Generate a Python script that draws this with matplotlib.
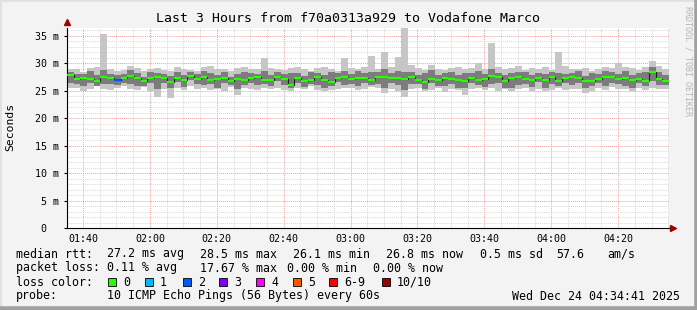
import numpy as np
import matplotlib.pyplot as plt
from matplotlib.lines import Line2D
from matplotlib.patches import Rectangle

W, H = 697, 310

# time axis in minutes since midnight, 2 minute samples
t_start = 95.2
t_step = 2.0

# median rtt per sample (ms)
med = [27.8, 27.1, 27.4, 27.2, 26.8, 27.5, 27.3, 26.9, 27.3, 27.7, 27.4, 26.7, 27.3, 27.5, 27.4,
       26.6, 27.4, 26.9, 27.7, 27.2, 27.6, 27.0, 27.1, 27.3, 26.8, 27.2, 26.9, 27.3, 27.5, 27.0,
       26.9, 27.6, 27.2, 26.1, 27.3, 26.8, 27.0, 27.5, 26.9, 26.6, 27.4, 27.6, 27.2, 27.4, 27.3,
       27.0, 27.6, 27.5, 27.3, 27.4, 27.1, 27.6, 27.0, 26.6, 27.2, 26.9, 27.4, 27.2, 27.0, 26.8,
       27.3, 27.0, 27.2, 27.7, 27.5, 26.8, 27.3, 27.6, 27.1, 26.9, 27.4, 27.0, 27.6, 26.7, 27.3,
       27.5, 27.4, 26.8, 26.7, 27.2, 27.5, 27.6, 27.1, 27.4, 26.9, 27.2, 26.8, 28.5, 27.1, 26.8]

# smoke: slowest / fastest ping
hi = [28.9, 29.0, 28.5, 29.2, 29.3, 35.4, 29.0, 28.6, 28.8, 29.6, 29.2, 28.7, 28.9, 29.1, 28.8,
      28.6, 29.3, 29.0, 28.8, 28.7, 29.4, 29.6, 28.9, 29.0, 28.7, 29.2, 29.3, 28.9, 28.9, 30.9,
      29.1, 29.0, 28.8, 29.2, 29.3, 28.9, 28.6, 29.2, 29.4, 29.0, 28.7, 31.0, 29.1, 28.9, 29.3,
      31.4, 29.0, 32.1, 29.3, 31.2, 36.6, 29.7, 29.2, 28.8, 29.7, 29.0, 28.8, 29.1, 29.4, 28.9,
      29.2, 30.1, 29.0, 33.7, 29.3, 28.9, 29.1, 29.5, 28.8, 29.2, 29.0, 29.3, 28.8, 32.1, 29.6,
      29.0, 28.9, 29.2, 28.6, 29.0, 29.3, 29.2, 30.1, 29.4, 29.1, 28.8, 29.3, 30.4, 29.6, 28.9]
lo = [25.6, 25.5, 24.9, 25.3, 25.8, 25.4, 25.1, 25.6, 25.9, 25.4, 25.2, 25.7, 25.0, 23.9, 25.3,
      23.7, 25.5, 25.1, 25.8, 25.4, 25.6, 25.2, 25.3, 25.0, 25.7, 24.2, 25.5, 25.4, 25.1, 25.6,
      25.3, 25.5, 25.2, 25.0, 25.6, 25.4, 25.8, 25.2, 24.9, 25.1, 25.3, 25.6, 25.5, 25.2, 25.4,
      25.7, 25.5, 24.6, 25.3, 25.0, 23.8, 25.4, 25.6, 24.9, 25.2, 25.5, 24.8, 25.3, 25.1, 24.2,
      25.4, 25.6, 25.2, 25.5, 25.0, 25.3, 24.9, 25.4, 25.6, 25.0, 25.3, 24.9, 25.2, 25.5, 25.1,
      25.3, 25.4, 24.6, 25.0, 25.5, 25.2, 25.7, 25.3, 25.4, 24.9, 25.6, 25.2, 25.5, 25.4, 25.3]
# smoke: middle pings
ilo = [26.5, 26.3, 25.8, 26.4, 25.9, 26.2, 26.2, 26.1, 26.5, 26.3, 25.9, 25.8, 26.4, 25.4, 26.5,
       25.5, 26.6, 25.7, 26.9, 26.3, 26.1, 26.2, 25.6, 26.5, 26.0, 25.4, 26.1, 26.5, 26.0, 26.2,
       25.8, 26.7, 26.0, 25.5, 26.5, 25.7, 26.2, 26.0, 25.6, 25.8, 26.6, 26.1, 26.3, 25.8, 26.4,
       26.1, 26.2, 25.6, 26.5, 26.0, 25.2, 26.3, 26.2, 25.4, 26.4, 25.8, 25.9, 26.3, 25.6, 25.5,
       26.5, 26.1, 25.7, 26.2, 26.4, 25.6, 25.5, 26.1, 26.2, 25.7, 26.6, 25.6, 26.2, 25.8, 26.5,
       26.0, 26.5, 25.5, 25.8, 26.4, 25.9, 26.4, 26.2, 25.8, 25.6, 26.4, 25.8, 26.7, 26.0, 26.0]
ihi = [28.4, 28.1, 28.0, 28.6, 27.8, 28.8, 28.1, 27.9, 28.0, 28.8, 28.2, 27.6, 28.4, 28.3, 28.1,
       27.7, 28.5, 27.8, 28.4, 28.0, 28.7, 28.3, 27.9, 28.5, 27.6, 28.1, 28.4, 28.2, 28.0, 28.6,
       27.8, 28.4, 28.1, 28.2, 28.2, 27.7, 28.5, 28.3, 27.8, 28.4, 28.2, 28.6, 28.0, 28.7, 28.2,
       28.4, 28.5, 28.9, 28.2, 28.6, 28.4, 28.5, 27.9, 28.3, 28.8, 27.8, 28.3, 28.5, 27.9, 28.2,
       28.2, 28.6, 28.1, 28.9, 28.3, 27.9, 28.2, 28.5, 28.4, 27.8, 28.3, 28.1, 28.4, 28.2, 28.1,
       28.3, 28.6, 27.7, 28.3, 28.1, 28.7, 28.5, 28.0, 28.6, 27.8, 28.3, 28.4, 29.4, 28.4, 27.8]
# lost pings (of 10) per sample
loss = [0, 0, 0, 0, 0, 0, 0, 2, 0, 0, 0, 0, 0, 0, 0,
        0, 0, 0, 0, 0, 0, 0, 0, 0, 0, 0, 0, 0, 0, 0,
        0, 0, 0, 0, 0, 0, 0, 0, 0, 0, 0, 0, 0, 0, 0,
        0, 0, 0, 0, 0, 0, 0, 0, 0, 0, 0, 0, 0, 0, 0,
        0, 0, 0, 0, 0, 0, 0, 0, 0, 0, 0, 0, 0, 0, 0,
        0, 0, 0, 0, 0, 0, 0, 0, 0, 0, 0, 0, 0, 0, 0]

loss_labels = ['0', '1', '2', '3', '4', '5', '6-9', '10/10']
loss_colors = ['#26ff00', '#00b8ff', '#0059ff', '#7e00ff', '#ff00ff', '#ff5500', '#ff0000', '#a00000']

time_ticks = [100, 120, 140, 160, 180, 200, 220, 240, 260]
time_labels = ['01:40', '02:00', '02:20', '02:40', '03:00', '03:20', '03:40', '04:00', '04:20']
y_ticks = [0, 5, 10, 15, 20, 25, 30, 35]
y_labels = ['0  ', '5 m', '10 m', '15 m', '20 m', '25 m', '30 m', '35 m']

MONO = 'DejaVu Sans Mono'
BG = '#f3f3f3'


def fx(px):
    return px / W


def fy(py):
    return 1 - py / H


n = len(med)
t = t_start + t_step * np.arange(n + 1)   # sample edges
ext = lambda a: np.append(a, a[-1])

fig = plt.figure(figsize=(W / 100, H / 100), dpi=100, facecolor=BG)
ax = fig.add_axes([fx(67), fy(228), fx(669) - fx(67), fy(28) - fy(228)])
ax.set_facecolor('white')
ax.set_xlim(t_start, t_start + 180)
ax.set_ylim(0, 36.45)

# grid
for m in np.arange(100, 276, 5):
    major = (m % 20 == 0)
    ax.axvline(m, color='#f2a0a0' if major else '#d8d8d8', lw=0.7,
               ls=(0, (1, 1)), zorder=0)
for v in np.arange(1, 37, 1):
    major = (v % 5 == 0)
    ax.axhline(v, color='#f2a0a0' if major else '#d8d8d8', lw=0.7,
               ls=(0, (1, 1)), zorder=0)

# smoke
ax.fill_between(t, ext(lo), ext(hi), step='post', color='#c6c6c6', lw=0, zorder=1)
ax.fill_between(t, ext(ilo), ext(ihi), step='post', color='#7c7c7c', lw=0, zorder=2)

# median: dark step line and loss-coloured flats
ax.step(t, ext(med), where='post', color='#202020', lw=0.8, zorder=3)
for i in range(n):
    c = loss_colors[min(loss[i], 6) if loss[i] < 10 else 7]
    ax.hlines(med[i], t[i], t[i + 1], color=c, lw=1.6, zorder=4)

# axes
for s in ['top', 'right']:
    ax.spines[s].set_visible(False)
ax.spines['left'].set_color('black')
ax.spines['bottom'].set_color('black')
ax.spines['left'].set_linewidth(0.8)
ax.spines['bottom'].set_linewidth(0.8)
ax.set_xticks(time_ticks)
ax.set_xticklabels(time_labels, fontfamily=MONO, fontsize=7.2)
ax.set_yticks(y_ticks)
ax.set_yticklabels(y_labels, fontfamily=MONO, fontsize=7.2)
ax.tick_params(axis='x', length=0, pad=4.5)
ax.tick_params(axis='y', length=2.5, width=0.8, pad=3)
ax.plot([0], [1.03], marker='^', color='#a00000', ms=4, transform=ax.transAxes, clip_on=False)
ax.plot([1.007], [0], marker='>', color='#a00000', ms=4, transform=ax.transAxes, clip_on=False)

# texts
fig.text(fx(348), fy(19), 'Last 3 Hours from f70a0313a929 to Vodafone Marco',
         family=MONO, fontsize=9.5, ha='center', va='center')
fig.text(fx(10), fy(127), 'Seconds', family=MONO, fontsize=8.2, rotation=90,
         ha='center', va='center')
fig.text(fx(688), fy(6), 'RRDTOOL / TOBI OETIKER', family=MONO, fontsize=6,
         rotation=270, ha='center', va='top', color='#b4b4b4')

FS = 8.4
row1 = [(16, 'median rtt:'), (107, '27.2 ms avg'), (200, '28.5 ms max'), (293, '26.1 ms min'),
        (386, '26.8 ms now'), (480, '0.5 ms sd'), (556, '57.6'), (607, 'am/s')]
row2 = [(16, 'packet loss:'), (107, '0.11 % avg'), (200, '17.67 % max'), (287, '0.00 % min'),
        (373, '0.00 % now')]
for x, s in row1:
    fig.text(fx(x), fy(254), s, family=MONO, fontsize=FS, va='center')
for x, s in row2:
    fig.text(fx(x), fy(268), s, family=MONO, fontsize=FS, va='center')
fig.text(fx(16), fy(282), 'loss color:', family=MONO, fontsize=FS, va='center')
box_x = [108, 145, 183, 219, 256, 293, 329, 382]
for bx, lab, col in zip(box_x, loss_labels, loss_colors):
    fig.patches.append(Rectangle((fx(bx), fy(286)), fx(8), 8 / H, transform=fig.transFigure,
                                 facecolor=col, edgecolor='black', lw=0.6))
    fig.text(fx(bx + 15), fy(282), lab, family=MONO, fontsize=FS, va='center')
fig.text(fx(16), fy(296), 'probe:', family=MONO, fontsize=FS, va='center')
fig.text(fx(107), fy(296), '10 ICMP Echo Pings (56 Bytes) every 60s', family=MONO,
         fontsize=FS, va='center')
fig.text(fx(680), fy(296), 'Wed Dec 24 04:34:41 2025', family=MONO, fontsize=FS,
         va='center', ha='right')

# image frame
fig.add_artist(Line2D([0, 0, 1], [0, 1, 1], transform=fig.transFigure, color='#e0e0e0', lw=2))
fig.add_artist(Line2D([0, 1, 1], [0.003, 0.003, 1], transform=fig.transFigure, color='#a0a0a0', lw=4))

fig.savefig('out.png', dpi=100, facecolor=BG)
